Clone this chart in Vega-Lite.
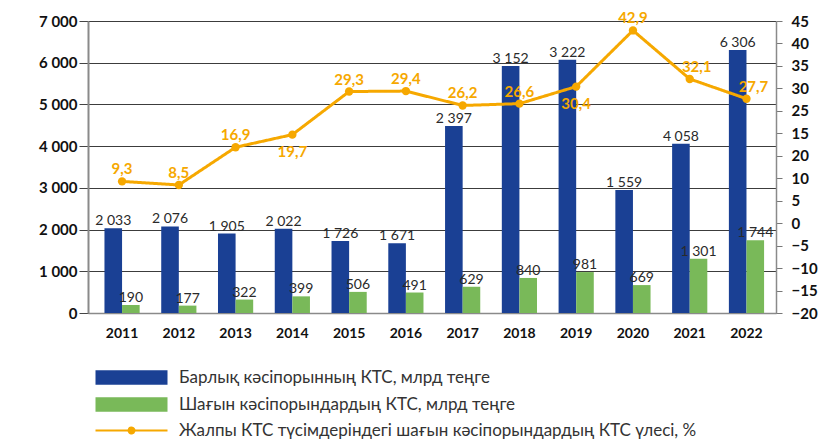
{
  "$schema": "https://vega.github.io/schema/vega-lite/v6.json",
  "width": 688,
  "height": 292,
  "autosize": {"type": "none"},
  "padding": {"left": 88, "top": 21, "right": 42, "bottom": 133},
  "background": "white",
  "config": {
    "view": {"stroke": null},
    "font": "Lato",
    "legend": {"padding": 0},
    "axisX": {
      "ticks": false,
      "labelPadding": 13,
      "labelFont": "Lato",
      "labelFontWeight": "bold",
      "labelFontSize": 14,
      "labelColor": "#111",
      "labelAngle": 0,
      "domainColor": "#8a8a8a",
      "domainWidth": 1.5,
      "grid": false
    },
    "axisRight": {
      "values": [-20, -15, -10, -5, 0, 5, 10, 15, 20, 25, 30, 35, 40, 45],
      "labelExpr": "datum.value == 20 ? '15' : datum.value == 15 ? '20' : datum.label",
      "labelOverlap": false,
      "labelFont": "Lato", "labelFontWeight": "bold", "labelFontSize": 15, "labelColor": "#111",
      "labelPadding": 9, "tickSize": 6, "tickColor": "#777",
      "domainColor": "#8a8a8a", "domainWidth": 1.5, "grid": false
    }
  },
  "datasets": {
    "bars": [
      {"year": "2011", "series": "Барлық кәсіпорынның КТС, млрд теңге", "value": 2033, "label": "2 033"},
      {"year": "2011", "series": "Шағын кәсіпорындардың КТС, млрд теңге", "value": 190, "label": "190"},
      {"year": "2012", "series": "Барлық кәсіпорынның КТС, млрд теңге", "value": 2076, "label": "2 076"},
      {"year": "2012", "series": "Шағын кәсіпорындардың КТС, млрд теңге", "value": 177, "label": "177"},
      {"year": "2013", "series": "Барлық кәсіпорынның КТС, млрд теңге", "value": 1905, "label": "1 905"},
      {"year": "2013", "series": "Шағын кәсіпорындардың КТС, млрд теңге", "value": 322, "label": "322"},
      {"year": "2014", "series": "Барлық кәсіпорынның КТС, млрд теңге", "value": 2022, "label": "2 022"},
      {"year": "2014", "series": "Шағын кәсіпорындардың КТС, млрд теңге", "value": 399, "label": "399"},
      {"year": "2015", "series": "Барлық кәсіпорынның КТС, млрд теңге", "value": 1726, "label": "1 726"},
      {"year": "2015", "series": "Шағын кәсіпорындардың КТС, млрд теңге", "value": 506, "label": "506"},
      {"year": "2016", "series": "Барлық кәсіпорынның КТС, млрд теңге", "value": 1671, "label": "1 671"},
      {"year": "2016", "series": "Шағын кәсіпорындардың КТС, млрд теңге", "value": 491, "label": "491"},
      {"year": "2017", "series": "Барлық кәсіпорынның КТС, млрд теңге", "value": 4480, "label": "2 397"},
      {"year": "2017", "series": "Шағын кәсіпорындардың КТС, млрд теңге", "value": 629, "label": "629"},
      {"year": "2018", "series": "Барлық кәсіпорынның КТС, млрд теңге", "value": 5920, "label": "3 152"},
      {"year": "2018", "series": "Шағын кәсіпорындардың КТС, млрд теңге", "value": 840, "label": "840"},
      {"year": "2019", "series": "Барлық кәсіпорынның КТС, млрд теңге", "value": 6070, "label": "3 222"},
      {"year": "2019", "series": "Шағын кәсіпорындардың КТС, млрд теңге", "value": 981, "label": "981"},
      {"year": "2020", "series": "Барлық кәсіпорынның КТС, млрд теңге", "value": 2950, "label": "1 559"},
      {"year": "2020", "series": "Шағын кәсіпорындардың КТС, млрд теңге", "value": 669, "label": "669"},
      {"year": "2021", "series": "Барлық кәсіпорынның КТС, млрд теңге", "value": 4058, "label": "4 058"},
      {"year": "2021", "series": "Шағын кәсіпорындардың КТС, млрд теңге", "value": 1301, "label": "1 301"},
      {"year": "2022", "series": "Барлық кәсіпорынның КТС, млрд теңге", "value": 6306, "label": "6 306"},
      {"year": "2022", "series": "Шағын кәсіпорындардың КТС, млрд теңге", "value": 1744, "label": "1 744"}
    ],
    "share": [
      {"year": "2011", "share": 9.3, "label": "9,3"},
      {"year": "2012", "share": 8.5, "label": "8,5"},
      {"year": "2013", "share": 16.9, "label": "16,9"},
      {"year": "2014", "share": 19.7, "label": "19,7"},
      {"year": "2015", "share": 29.3, "label": "29,3"},
      {"year": "2016", "share": 29.4, "label": "29,4"},
      {"year": "2017", "share": 26.2, "label": "26,2"},
      {"year": "2018", "share": 26.6, "label": "26,6"},
      {"year": "2019", "share": 30.4, "label": "30,4"},
      {"year": "2020", "share": 42.9, "label": "42,9"},
      {"year": "2021", "share": 32.1, "label": "32,1"},
      {"year": "2022", "share": 27.7, "label": "27,7"}
    ]
  },
  "layer": [
    {
      "data": {"name": "bars"},
      "layer": [
        {
          "mark": {"type": "bar"},
          "encoding": {
            "x": {"field": "year", "type": "nominal", "title": null, "scale": {"paddingInner": 0.38, "paddingOuter": 0.25, "align": 0.58}},
            "xOffset": {"field": "series", "type": "nominal", "scale": {"domain": ["Барлық кәсіпорынның КТС, млрд теңге", "Шағын кәсіпорындардың КТС, млрд теңге"], "paddingInner": 0, "paddingOuter": 0}},
            "y": {
              "field": "value", "type": "quantitative", "title": null,
              "scale": {"domain": [0, 7000], "nice": false},
              "axis": {
                "orient": "left",
                "values": [0, 1000, 2000, 3000, 4000, 5000, 6000, 7000],
                "labelExpr": "replace(format(datum.value, ','), ',', ' ')",
                "labelFont": "Lato", "labelFontWeight": "bold", "labelFontSize": 15, "labelColor": "#111",
                "labelPadding": 2,
                "tickSize": 9, "tickColor": "#444",
                "domainColor": "#8a8a8a", "domainWidth": 2,
                "grid": true, "gridColor": "#3c3c3c", "gridWidth": 1
              }
            },
            "color": {
              "field": "series", "type": "nominal",
              "scale": {"domain": ["Барлық кәсіпорынның КТС, млрд теңге", "Шағын кәсіпорындардың КТС, млрд теңге"], "range": ["#1a4094", "#79b959"]},
              "legend": {
                "orient": "none", "legendX": 4, "legendY": 348, "title": null,
                "symbolType": "M-1,-1.47H13.4V1.47H-1Z", "symbolSize": 100,
                "symbolStrokeWidth": 0,
                "labelFont": "Lato", "labelFontSize": 17, "labelColor": "#333", "labelOffset": 70, "labelLimit": 0,
                "rowPadding": 9
              }
            }
          }
        },
        {
          "mark": {"type": "text", "baseline": "alphabetic", "dy": -3, "font": "Lato", "fontSize": 14, "color": "#2a2a2a"},
          "encoding": {
            "x": {"field": "year", "type": "nominal", "title": null},
            "xOffset": {"field": "series", "type": "nominal"},
            "y": {"field": "value", "type": "quantitative", "title": null},
            "text": {"field": "label"}
          }
        }
      ]
    },
    {
      "data": {"name": "share"},
      "layer": [
        {
          "mark": {"type": "line", "color": "#f6a800", "strokeWidth": 3},
          "encoding": {
            "x": {"field": "year", "type": "nominal", "title": null},
            "y": {
              "field": "share", "type": "quantitative", "title": null,
              "scale": {"domain": [-20, 45], "nice": false},
              "axis": {"orient": "right", "values": [-20, -15, -10, -5, 0, 5, 10, 15, 20, 25, 30, 35, 40, 45], "labelOverlap": false}
            },
            "strokeDash": {
              "datum": "Жалпы КТС түсімдеріндегі шағын кәсіпорындардың КТС үлесі, %",
              "scale": {"range": [[1, 0]]},
              "legend": {
                "orient": "none", "legendX": 4, "legendY": 401, "title": null,
                "symbolType": "M-1,0H13.4 M5.95,0A0.25,0.25 0 1,0 6.45,0A0.25,0.25 0 1,0 5.95,0Z M5.6,0A0.6,0.6 0 1,0 6.8,0A0.6,0.6 0 1,0 5.6,0Z",
                "symbolSize": 100,
                "symbolFillColor": "#f6a800", "symbolStrokeColor": "#f6a800", "symbolStrokeWidth": 2,
                "labelFont": "Lato", "labelFontSize": 17, "labelColor": "#333", "labelOffset": 70, "labelLimit": 0
              }
            }
          }
        },
        {
          "mark": {"type": "point", "filled": true, "size": 70, "color": "#f6a800", "opacity": 1},
          "encoding": {
            "x": {"field": "year", "type": "nominal", "title": null},
            "y": {"field": "share", "type": "quantitative", "title": null, "axis": {"orient": "right", "values": [-20, -15, -10, -5, 0, 5, 10, 15, 20, 25, 30, 35, 40, 45], "labelOverlap": false}}
          }
        },
        {
          "transform": [{"filter": "datum.year != '2014' && datum.year != '2019' && datum.year != '2021' && datum.year != '2022'"}],
          "mark": {"type": "text", "baseline": "middle", "dy": -12, "font": "Lato", "fontWeight": "bold", "fontSize": 15, "color": "#f6a800"},
          "encoding": {
            "x": {"field": "year", "type": "nominal", "title": null},
            "y": {"field": "share", "type": "quantitative", "title": null, "axis": {"orient": "right", "values": [-20, -15, -10, -5, 0, 5, 10, 15, 20, 25, 30, 35, 40, 45], "labelOverlap": false}},
            "text": {"field": "label"}
          }
        },
        {
          "transform": [{"filter": "datum.year == '2021' || datum.year == '2022'"}],
          "mark": {"type": "text", "baseline": "middle", "dy": -12, "dx": 7, "font": "Lato", "fontWeight": "bold", "fontSize": 15, "color": "#f6a800"},
          "encoding": {
            "x": {"field": "year", "type": "nominal", "title": null},
            "y": {"field": "share", "type": "quantitative", "title": null, "axis": {"orient": "right", "values": [-20, -15, -10, -5, 0, 5, 10, 15, 20, 25, 30, 35, 40, 45], "labelOverlap": false}},
            "text": {"field": "label"}
          }
        },
        {
          "transform": [{"filter": "datum.year == '2014' || datum.year == '2019'"}],
          "mark": {"type": "text", "baseline": "middle", "dy": 17, "font": "Lato", "fontWeight": "bold", "fontSize": 15, "color": "#f6a800"},
          "encoding": {
            "x": {"field": "year", "type": "nominal", "title": null},
            "y": {"field": "share", "type": "quantitative", "title": null, "axis": {"orient": "right", "values": [-20, -15, -10, -5, 0, 5, 10, 15, 20, 25, 30, 35, 40, 45], "labelOverlap": false}},
            "text": {"field": "label"}
          }
        }
      ]
    }
  ],
  "resolve": {"scale": {"y": "independent"}}
}
